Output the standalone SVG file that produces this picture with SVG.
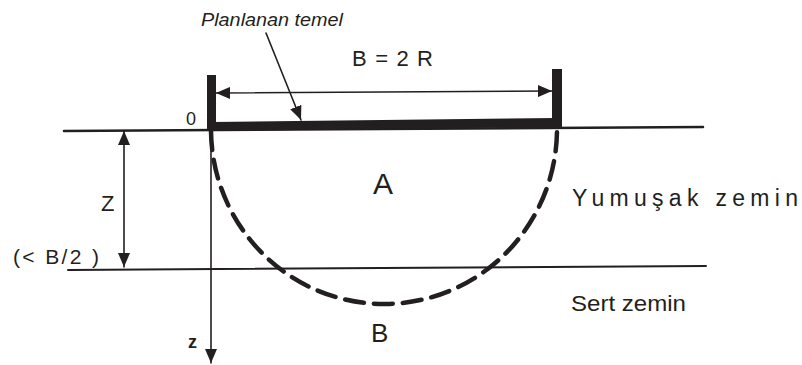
<svg xmlns="http://www.w3.org/2000/svg" width="802" height="365" viewBox="0 0 802 365">
<defs>
<style>
.ln{stroke:#231f20;fill:none;stroke-linecap:round}
.txt{font-family:"Liberation Sans",Arial,sans-serif;fill:#231f20}
.fill{fill:#231f20}
</style>
<marker id="ah" viewBox="0 0 14 12" refX="14" refY="6" markerWidth="14" markerHeight="12" markerUnits="userSpaceOnUse" orient="auto-start-reverse">
<path d="M0,0 L14,6 L0,12 Z" fill="#231f20"/>
</marker>
</defs>
<rect width="802" height="365" fill="#ffffff"/>
<g id="ground-lines">
<line class="ln" x1="64" y1="131" x2="703" y2="127" stroke-width="2.6"/>
<line class="ln" x1="68" y1="270" x2="706" y2="266" stroke-width="2"/>
</g>
<g id="foundation">
<rect class="fill" x="207" y="75" width="9" height="56"/>
<rect class="fill" x="552" y="69" width="10" height="59"/>
<polygon class="fill" points="212,122 557,118 557,127 212,131"/>
</g>
<g id="failure-surface">
<path class="ln" d="M 211 131 A 173 175 0 0 0 557 127" stroke-width="4.5" stroke-dasharray="19 10" stroke-linecap="butt"/>
</g>
<g id="connectors">
<line class="ln" x1="216" y1="93" x2="552" y2="91" stroke-width="1.6" marker-start="url(#ah)" marker-end="url(#ah)"/>
<line class="ln" x1="266" y1="33" x2="301" y2="120" stroke-width="1.6" marker-end="url(#ah)"/>
<line class="ln" x1="124" y1="131" x2="124" y2="267" stroke-width="1.6" marker-start="url(#ah)" marker-end="url(#ah)"/>
<line class="ln" x1="211" y1="131" x2="211" y2="363" stroke-width="1.6" marker-end="url(#ah)"/>
</g>
<g id="labels">
<text class="txt" x="201" y="26" font-size="18" font-style="italic" textLength="142" lengthAdjust="spacingAndGlyphs">Planlanan temel</text>
<text class="txt" x="352" y="66" font-size="22" textLength="81" lengthAdjust="spacing">B = 2 R</text>
<text class="txt" x="186" y="125" font-size="18">0</text>
<text class="txt" x="373" y="194" font-size="30">A</text>
<text class="txt" x="371" y="342" font-size="26">B</text>
<text class="txt" x="101" y="211" font-size="22">Z</text>
<text class="txt" x="13" y="264" font-size="21" textLength="86" lengthAdjust="spacing">(&lt; B/2 )</text>
<text class="txt" x="188" y="348" font-size="18" font-weight="bold">z</text>
<text class="txt" x="572" y="206" font-size="23" textLength="226" lengthAdjust="spacing">Yumuşak zemin</text>
<text class="txt" x="571" y="311" font-size="22" textLength="115" lengthAdjust="spacingAndGlyphs">Sert zemin</text>
</g>
</svg>
